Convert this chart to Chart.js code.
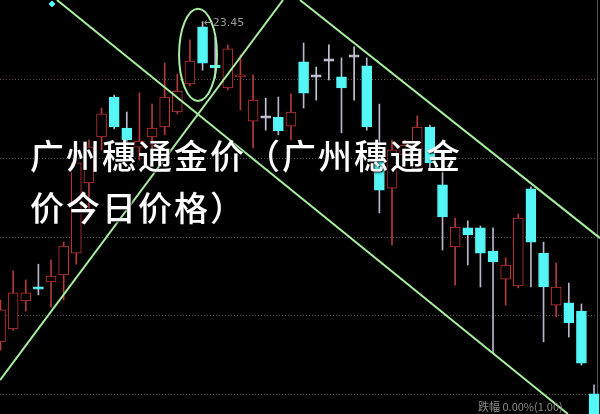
<!DOCTYPE html>
<html>
<head>
<meta charset="utf-8">
<script src="https://cdn.jsdelivr.net/npm/chart.js@4.4.1/dist/chart.umd.min.js"></script>
<style>
html, body { margin: 0; padding: 0; background: #000; }
#wrap { position: relative; width: 600px; height: 414px; overflow: hidden; }
#title {
    position: absolute; left: 30px; top: 129px; color: #fff;
    font: 500 34px/52px "Noto Sans CJK SC"; letter-spacing: 2px;
    text-shadow: 1px 1px 2px #000; white-space: nowrap;
}
#note { position: absolute; left: 478px; top: 398px; color: #8a8a8a; font: 11px "Noto Sans CJK SC"; }
</style>
</head>
<body>
<div id="wrap">
    <canvas id="chartK" width="600" height="414"></canvas>
    <div id="title">广州穗通金价（广州穗通金<br>价今日价格）</div>
    <div id="note">跌幅 0.00%(1.00)</div>
</div>
<script>
// daily candles, left to right
const opens  = [15.33, 15.66, 16.37, 16.72, 16.85, 17.03, 17.58, 19.36, 20.53, 21.54, 20.75, 20.27,
                20.53, 20.78, 21.16, 21.87, 23.32, 22.35, 21.77, 22.05, 20.93, 21.03, 21.03, 20.80,
                22.43, 22.07, 22.48, 22.05, 22.58, 22.33, 19.94, 19.23, 20.07, 19.69, 20.78, 19.31,
                17.74, 18.22, 18.22, 17.63, 16.92, 16.75, 19.21, 17.58, 16.26, 16.32, 16.11, 14.01];
const highs  = [16.39, 17.13, 16.90, 17.30, 17.41, 17.86, 20.07, 20.45, 21.26, 21.59, 21.16, 21.64,
                21.36, 22.40, 22.12, 22.99, 23.45, 23.06, 22.86, 22.61, 22.10, 21.51, 21.54, 21.62,
                22.91, 22.30, 22.86, 22.53, 22.81, 22.53, 21.36, 20.45, 20.45, 21.06, 20.83, 19.76,
                18.47, 18.40, 18.27, 18.22, 17.46, 18.57, 19.26, 17.86, 17.33, 16.82, 16.29, 14.24];
const lows   = [15.12, 15.62, 16.11, 16.52, 16.21, 16.39, 17.30, 18.55, 20.20, 20.73, 20.20, 19.94,
                20.20, 20.58, 21.11, 21.82, 22.22, 22.02, 21.72, 21.21, 20.25, 20.70, 20.58, 20.45,
                21.26, 21.46, 21.97, 20.63, 21.46, 20.70, 18.60, 17.79, 19.94, 19.64, 19.74, 17.66,
                16.77, 17.28, 16.72, 15.05, 16.26, 16.70, 16.72, 15.33, 15.96, 15.45, 14.74, 13.20];
const closes = [16.14, 16.57, 16.57, 16.67, 17.00, 17.76, 19.87, 20.27, 21.11, 20.78, 20.45, 20.42,
                20.75, 21.54, 21.69, 22.45, 22.40, 22.28, 22.76, 22.10, 21.46, 21.03, 20.68, 21.16,
                21.64, 22.07, 22.48, 21.77, 22.58, 20.78, 19.18, 20.20, 20.32, 20.78, 19.87, 18.50,
                18.24, 18.04, 17.58, 17.36, 17.28, 18.47, 17.86, 16.72, 16.72, 15.81, 14.79, 13.30];

const gridValues = [22, 20, 18, 16, 14];
const markLabel = '23.45';
const markIndex = 16;

// drawn trend lines and the circled top
const trendA = [{ x: 4.47, y: 24.0 }, { x: 44.93, y: 13.5 }];
const trendB = [{ x: -0.04, y: 14.36 }, { x: 22.37, y: 24.0 }];
const trendC = [{ x: 23.71, y: 24.0 }, { x: 47.47, y: 17.96 }];
const ring = { x: 15.64, y: 22.61, rx: 1.5, ry: 1.17 };
const marker = [{ x: 4.08, y: 23.9 }];

const RED = '#c43434';
const CYAN = '#55f6f6';
const GRAY = '#c4c4d6';

const bodies = [], wicks = [], bodyBg = [], bodyBorder = [], wickColor = [];
opens.forEach((o, i) => {
    const c = closes[i];
    let lo = Math.min(o, c), hi = Math.max(o, c);
    if (hi - lo < 0.05) { const m = (hi + lo) / 2; lo = m - 0.03; hi = m + 0.03; }
    bodies.push({ x: i, y: [lo, hi] });
    wicks.push({ x: i, y: [lows[i], highs[i]] });
    if (c > o) { bodyBg.push('#000'); bodyBorder.push(RED); wickColor.push('#b23a3a'); }
    else if (c < o) { bodyBg.push(CYAN); bodyBorder.push(CYAN); wickColor.push('#b6b6cc'); }
    else { bodyBg.push(GRAY); bodyBorder.push(GRAY); wickColor.push(GRAY); }
});

const extras = {
    id: 'extras',
    beforeDatasetsDraw(chart) {
        const { ctx, scales: { x, y }, chartArea } = chart;
        ctx.save();
        ctx.strokeStyle = 'rgba(130,105,105,0.75)';
        ctx.lineWidth = 1;
        ctx.setLineDash([1, 2]);
        gridValues.forEach(v => {
            const py = Math.round(y.getPixelForValue(v)) + 0.5;
            ctx.beginPath();
            ctx.moveTo(chartArea.left, py);
            ctx.lineTo(chartArea.right, py);
            ctx.stroke();
        });
        ctx.setLineDash([]);
        ctx.strokeStyle = '#555';
        ctx.beginPath();
        ctx.moveTo(597.5, 0);
        ctx.lineTo(597.5, 414);
        ctx.stroke();
        ctx.restore();
    },
    afterDatasetsDraw(chart) {
        const { ctx, scales: { x, y } } = chart;
        ctx.save();
        const cx = x.getPixelForValue(ring.x), cy = y.getPixelForValue(ring.y);
        const rx = x.getPixelForValue(ring.x + ring.rx) - cx;
        const ry = cy - y.getPixelForValue(ring.y + ring.ry);
        ctx.strokeStyle = '#a8eea0';
        ctx.lineWidth = 2;
        ctx.beginPath();
        ctx.ellipse(cx, cy, rx, ry, 0, 0, Math.PI * 2);
        ctx.stroke();

        const px = x.getPixelForValue(markIndex) + 1;
        const py = y.getPixelForValue(highs[markIndex]);
        ctx.fillStyle = '#9c9c9c';
        ctx.font = '11px "DejaVu Sans"';
        ctx.textBaseline = 'middle';
        ctx.fillText('←' + markLabel, px, py + 1);
        ctx.restore();
    }
};

const lineStyle = { type: 'line', borderColor: '#a8eea0', borderWidth: 2, pointRadius: 0, order: 0 };

new Chart(document.getElementById('chartK').getContext('2d'), {
    type: 'bar',
    data: {
        datasets: [
            { ...lineStyle, data: trendA },
            { ...lineStyle, data: trendB },
            { ...lineStyle, data: trendC },
            { type: 'scatter', data: marker, pointStyle: 'rectRot', pointRadius: 3,
              backgroundColor: CYAN, borderColor: CYAN, order: 0 },
            { data: bodies, backgroundColor: bodyBg, borderColor: bodyBorder, borderWidth: 1,
              borderSkipped: false, barThickness: 10, grouped: false, order: 1 },
            { data: wicks, backgroundColor: wickColor, borderWidth: 0,
              barThickness: 1, grouped: false, order: 2 }
        ]
    },
    options: {
        responsive: false,
        animation: false,
        layout: { padding: 0, autoPadding: false },
        plugins: { legend: { display: false }, tooltip: { enabled: false } },
        events: [],
        scales: {
            x: { type: 'linear', min: -0.04, max: 47.47, offset: false, display: false },
            y: { min: 13.5, max: 24, display: false }
        }
    },
    plugins: [extras]
});
</script>
</body>
</html>
